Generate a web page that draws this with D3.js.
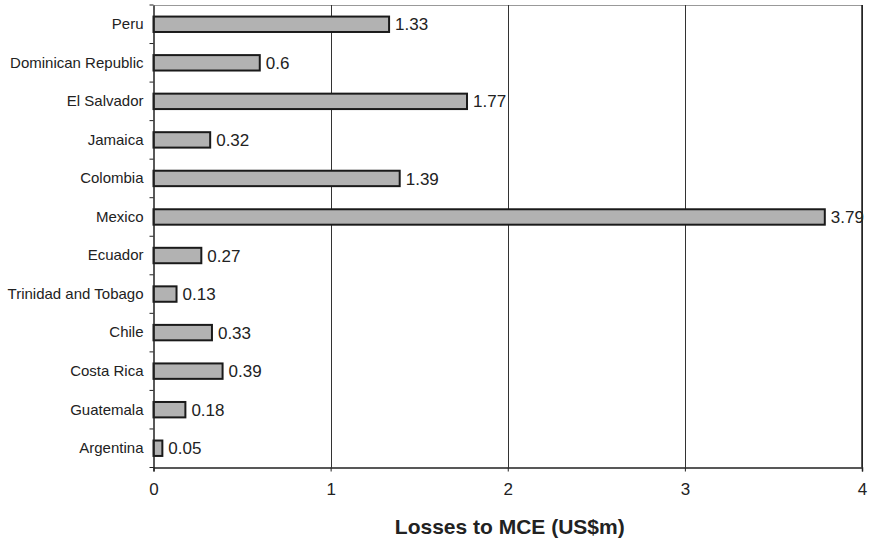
<!DOCTYPE html>
<html><head><meta charset="utf-8">
<script src="https://cdn.jsdelivr.net/npm/d3@7"></script>
<style>body{margin:0;background:#fff}svg{display:block}</style>
</head><body>
<svg id="c" width="869" height="540"></svg>
<script>
const categories = ["Peru","Dominican Republic","El Salvador","Jamaica","Colombia","Mexico","Ecuador","Trinidad and Tobago","Chile","Costa Rica","Guatemala","Argentina"];
const values = [1.33,0.6,1.77,0.32,1.39,3.79,0.27,0.13,0.33,0.39,0.18,0.05];
const valueLabels = ["1.33","0.6","1.77","0.32","1.39","3.79","0.27","0.13","0.33","0.39","0.18","0.05"];
const xTicks = [0,1,2,3,4];
const xTitle = "Losses to MCE (US$m)";

const svg = d3.select("#c");
const m = {l:153.5, r:862, t:5, b:467.5};
const x = d3.scaleLinear().domain([0,4]).range([m.l, m.r]);
const y = d3.scaleBand().domain(categories).range([m.t, m.b]).paddingInner(0.6).paddingOuter(0.3);
const yb = d3.scaleBand().domain(categories).range([m.t, m.b]);
const font = "Liberation Sans, Arial, sans-serif";

// top border
svg.append("line").attr("x1",m.l).attr("x2",m.r).attr("y1",m.t+0.5).attr("y2",m.t+0.5).attr("stroke","#999").attr("stroke-width",1);
// gridlines
svg.selectAll(".g").data(xTicks.slice(1)).join("line")
  .attr("x1",d=>Math.round(x(d))+0.5).attr("x2",d=>Math.round(x(d))+0.5)
  .attr("y1",m.t).attr("y2",m.b).attr("stroke","#333").attr("stroke-width",1);

// bars
svg.selectAll(".bar").data(categories).join("rect")
  .attr("x",x(0)).attr("y",d=>y(d))
  .attr("width",(d,i)=>x(values[i])-x(0)).attr("height",y.bandwidth())
  .attr("fill","#b2b2b2").attr("stroke","#1a1a1a").attr("stroke-width",2);

// value labels
svg.selectAll(".vl").data(categories).join("text")
  .attr("x",(d,i)=>x(values[i])+6).attr("y",d=>y(d)+y.bandwidth()/2)
  .attr("dy","0.36em").attr("font-family",font)
  .attr("font-size",17).attr("fill","#222").text((d,i)=>valueLabels[i]);

// y axis
const ya = d3.axisLeft(yb).tickSize(0).tickPadding(10);
const yg = svg.append("g").attr("transform",`translate(${m.l},0)`).call(ya);
yg.select(".domain").attr("stroke","#222").attr("stroke-width",1.5);
yg.selectAll("text").attr("font-family",font).attr("font-size",15).attr("fill","#222");
// y tick marks at boundaries
svg.selectAll(".yt").data(d3.range(categories.length+1)).join("line")
  .attr("x1",m.l-4).attr("x2",m.l)
  .attr("y1",i=>m.t+i*yb.step()).attr("y2",i=>m.t+i*yb.step())
  .attr("stroke","#222").attr("stroke-width",1);

// x axis
const xa = d3.axisBottom(x).tickValues(xTicks).tickFormat(d3.format("d")).tickSize(4).tickPadding(11);
const xg = svg.append("g").attr("transform",`translate(0,${m.b})`).call(xa);
xg.select(".domain").attr("stroke","#222").attr("stroke-width",1.5);
xg.selectAll(".tick line").attr("stroke","#222");
xg.selectAll("text").attr("font-family",font).attr("font-size",17).attr("fill","#222");

// right border
svg.append("line").attr("x1",m.r).attr("x2",m.r).attr("y1",m.t).attr("y2",m.b).attr("stroke","#222").attr("stroke-width",1.5);

// title
svg.append("text").attr("x",(m.l+m.r)/2+2).attr("y",534).attr("text-anchor","middle")
  .attr("font-family",font).attr("font-weight","bold")
  .attr("font-size",21).attr("fill","#222").text(xTitle);
</script>
</body></html>
